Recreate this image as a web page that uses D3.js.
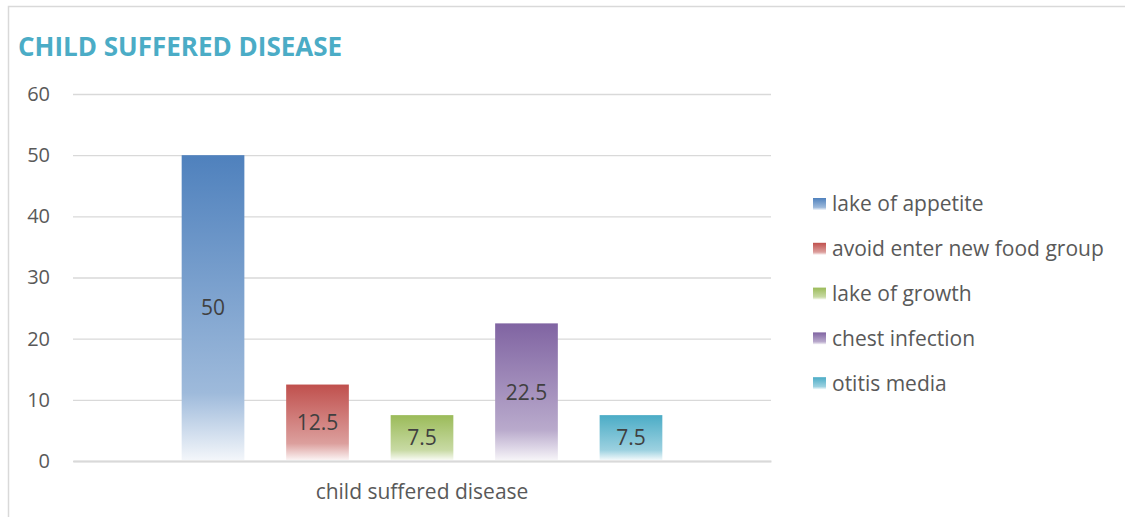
<!DOCTYPE html>
<html>
<head>
<meta charset="utf-8">
<script src="https://cdn.jsdelivr.net/npm/d3@7"></script>
<style>
  body { margin: 0; background: #fff; }
  svg { display: block; font-family: "Open Sans", "Noto Sans", sans-serif; }
</style>
</head>
<body>
<div id="chart"></div>
<script>
// data
const categories = ['child suffered disease'];
const seriesNames = ['lake of appetite', 'avoid enter new food group', 'lake of growth', 'chest infection', 'otitis media'];
const seriesValues = [50, 12.5, 7.5, 22.5, 7.5];
const seriesColors = ['#4f81bd', '#c0504d', '#9bbb59', '#8064a2', '#4bacc6'];
const yTicks = [0, 10, 20, 30, 40, 50, 60];

const width = 1125, height = 517;
const margin = { top: 94, right: 354, bottom: 56, left: 73 };

const svg = d3.select('#chart')
  .append('svg')
  .attr('width', width)
  .attr('height', height);

// frame
svg.append('rect')
  .attr('x', 8.5).attr('y', 6.5)
  .attr('width', 1140).attr('height', 540)
  .attr('fill', '#fff')
  .attr('stroke', '#d9d9d9')
  .attr('stroke-width', 1.5);

// gradients, full colour at top fading to almost white at the bottom
const defs = svg.append('defs');
seriesColors.forEach((c, i) => {
  const g = defs.append('linearGradient')
    .attr('id', 'grad' + i)
    .attr('x1', 0).attr('y1', 0).attr('x2', 0).attr('y2', 1);
  g.append('stop').attr('offset', '0%').attr('stop-color', c);
  g.append('stop').attr('offset', '78%').attr('stop-color', d3.interpolateRgb(c, '#fff')(0.45));
  g.append('stop').attr('offset', '100%').attr('stop-color', d3.interpolateRgb(c, '#fff')(0.93));
});

// title
svg.append('text')
  .attr('x', 18)
  .attr('y', 56)
  .style('font-size', '26px')
  .style('font-weight', 'bold')
  .style('fill', '#4bacc6')
  .text('CHILD SUFFERED DISEASE');

// scales
const x0 = d3.scaleBand()
  .domain(categories)
  .range([margin.left, width - margin.right])
  .padding(0);

const x1 = d3.scaleBand()
  .domain(seriesNames)
  .range([0, x0.bandwidth()])
  .paddingInner(0.4)
  .paddingOuter(1.04);

const y = d3.scaleLinear()
  .domain([0, 60])
  .range([height - margin.bottom, margin.top]);

// grid lines + y labels
const yAxis = svg.append('g')
  .attr('transform', `translate(${margin.left},0)`)
  .call(d3.axisLeft(y).tickValues(yTicks).tickSize(-(width - margin.left - margin.right)).tickPadding(23));
yAxis.select('.domain').remove();
yAxis.selectAll('.tick line')
  .attr('stroke', '#d9d9d9')
  .attr('stroke-width', 1.3);
yAxis.selectAll('.tick text')
  .style('font-family', '"Open Sans", "Noto Sans", sans-serif')
  .style('font-size', '20px')
  .style('fill', '#595959');

// x axis labels
const xAxis = svg.append('g')
  .attr('transform', `translate(0,${height - margin.bottom})`)
  .call(d3.axisBottom(x0).tickSize(0).tickPadding(23));
xAxis.select('.domain').attr('stroke', '#d9d9d9').attr('stroke-width', 2);
xAxis.selectAll('.tick text')
  .style('font-family', '"Open Sans", "Noto Sans", sans-serif')
  .style('font-size', '21px')
  .style('fill', '#595959');

// bars
const group = svg.append('g')
  .selectAll('g')
  .data(categories)
  .join('g')
  .attr('transform', d => `translate(${x0(d)},0)`);

const barData = seriesNames.map((name, i) => ({ name, value: seriesValues[i], i }));

group.selectAll('rect')
  .data(barData)
  .join('rect')
  .attr('x', d => x1(d.name))
  .attr('width', x1.bandwidth())
  .attr('y', d => y(d.value))
  .attr('height', d => y(0) - y(d.value) - 1)
  .attr('fill', d => `url(#grad${d.i})`);

group.selectAll('text.value')
  .data(barData)
  .join('text')
  .attr('class', 'value')
  .attr('x', d => x1(d.name) + x1.bandwidth() / 2)
  .attr('y', d => (y(d.value) + y(0)) / 2)
  .attr('dy', '0.35em')
  .attr('text-anchor', 'middle')
  .style('font-size', '21px')
  .style('fill', '#404040')
  .text(d => d.value);

// legend
const legend = svg.append('g')
  .attr('transform', 'translate(813,204)');

const items = legend.selectAll('g')
  .data(barData)
  .join('g')
  .attr('transform', (d, i) => `translate(0,${i * 44.8})`);

items.append('rect')
  .attr('x', 0)
  .attr('y', -6)
  .attr('width', 13)
  .attr('height', 12)
  .attr('fill', d => `url(#grad${d.i})`);

items.append('text')
  .attr('x', 19)
  .attr('dy', '0.35em')
  .style('font-size', '21px')
  .style('fill', '#595959')
  .text(d => d.name);
</script>
</body>
</html>
